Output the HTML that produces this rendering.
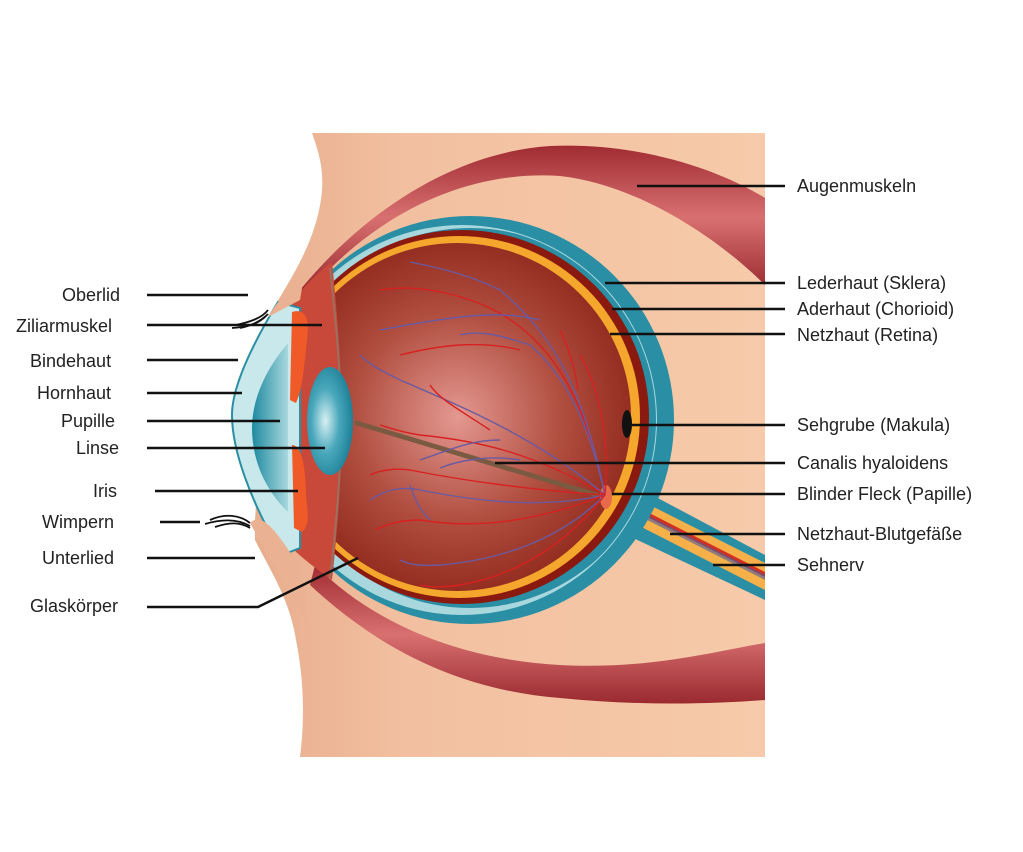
<!DOCTYPE html>
<html><head><style>
body{margin:0;background:#fff;}
svg{display:block}
text{font-family:"Liberation Sans",sans-serif;font-size:18px;fill:#222;}
</style></head><body>
<svg width="1023" height="852" viewBox="0 0 1023 852" xmlns="http://www.w3.org/2000/svg">
<defs>
<radialGradient id="vit" cx="0.5" cy="0.5" r="0.6">
<stop offset="0" stop-color="#e49890"/><stop offset="0.5" stop-color="#b04e40"/><stop offset="1" stop-color="#861e12"/></radialGradient>
<linearGradient id="mus" x1="0" y1="0" x2="0" y2="1">
<stop offset="0" stop-color="#a02c32"/><stop offset="0.5" stop-color="#d87070"/><stop offset="1" stop-color="#9a2a30"/></linearGradient>
<radialGradient id="lens" cx="0.4" cy="0.5" r="0.6"><stop offset="0" stop-color="#d8f0f2"/><stop offset="0.5" stop-color="#4aa8bc"/><stop offset="1" stop-color="#1c7f96"/></radialGradient>
<linearGradient id="cham" x1="0" x2="1"><stop offset="0" stop-color="#1f8aa0"/><stop offset="1" stop-color="#a8d8de"/></linearGradient>
<linearGradient id="skin" x1="0" x2="1"><stop offset="0" stop-color="#e8ae8e"/><stop offset="0.3" stop-color="#f2c0a0"/><stop offset="1" stop-color="#f6caaa"/></linearGradient>
<clipPath id="eyeclip"><circle cx="470" cy="420" r="204"/></clipPath>
<clipPath id="inner"><circle cx="462" cy="420" r="194"/></clipPath>
</defs>
<path d="M312,133 L765,133 L765,757 L300,757 C306,710 302,670 296,640 C290,600 270,570 255,540 L255,520 L268,317 C290,280 318,240 322,190 C324,165 316,145 312,133 Z" fill="url(#skin)"/>
<path d="M300,290 C370,205 460,152 550,146 C640,142 720,170 765,198 L765,285 C720,240 640,185 560,176 C470,170 380,210 310,290 Z" fill="url(#mus)"/>
<path d="M315,565 C380,630 470,660 560,665 C650,670 720,650 765,643 L765,700 C700,705 630,705 560,698 C460,690 380,650 310,585 Z" fill="url(#mus)"/>
<path d="M605,470 L765,555 L765,600 L612,528 Z" fill="#2a8ea4"/>
<path d="M610,485 L765,563 L765,590 L612,512 Z" fill="#f5b04a"/>
<path d="M610,493 L765,572 L765,577 L612,499 Z" fill="#d33020"/>
<path d="M610,496 L765,575 L765,580 L612,502 Z" fill="#4a5aa0" opacity="0.6"/>
<circle cx="470" cy="420" r="204" fill="#2a8ea4"/>
<circle cx="462" cy="420" r="195" fill="#a8d8de" clip-path="url(#eyeclip)"/>
<circle cx="470" cy="418" r="190" fill="#2a8ea4" clip-path="url(#inner)"/>
<circle cx="462" cy="417" r="187" fill="#8a1a10"/>
<circle cx="459" cy="417" r="181" fill="#f5a62c"/>
<circle cx="457" cy="417" r="174" fill="url(#vit)"/>
<path d="M292,302 C305,285 318,272 332,262 C338,320 342,380 342,420 C342,470 338,525 332,580 C318,570 304,560 292,548 Z" fill="#c8483a"/>
<path d="M330,268 C337,330 341,380 341,420 C341,470 337,520 330,578" fill="none" stroke="#9a7060" stroke-width="2"/>
<path d="M278,302 C255,340 232,385 232,415 C232,450 250,500 282,555 L300,548 L300,308 Z" fill="#c9e8ec" stroke="#2a8ea4" stroke-width="2"/>
<path d="M288,343 C265,370 252,400 252,428 C252,460 265,490 288,512 Z" fill="url(#cham)"/>
<path d="M292,312 C305,308 310,318 307,340 C304,370 302,390 296,403 L290,400 Z" fill="#f05a28"/>
<path d="M292,445 C302,445 306,470 306,495 C308,515 310,525 302,532 L294,528 Z" fill="#f05a28"/>
<ellipse cx="330" cy="421" rx="23" ry="54" fill="url(#lens)"/>
<path d="M268,317 C278,300 292,285 305,270 L300,300 Z" fill="#eab292"/>
<path d="M250,523 C258,515 268,520 285,545 C300,565 310,590 305,620 L290,595 C278,570 262,545 250,523 Z" fill="#eab292"/>
<path d="M355,420 L605,495 L605,500 L355,425 Z" fill="#7a5a40"/>
<ellipse cx="606" cy="497" rx="6" ry="12" fill="#e86a4a"/>
<ellipse cx="627" cy="424" rx="5" ry="14" fill="#111"/>
<g fill="none" stroke-width="1.4">
<path d="M605,495 C590,420 560,330 470,300 C440,290 410,285 380,290" stroke="#d82020"/>
<path d="M520,350 C480,340 440,345 400,355" stroke="#d82020"/>
<path d="M605,495 C585,400 560,340 500,290 C470,275 440,268 410,262" stroke="#6a5aa0"/>
<path d="M540,320 C500,310 460,315 380,330" stroke="#6a5aa0"/>
<path d="M605,495 C590,430 570,380 530,345 C500,335 480,330 460,335" stroke="#6a5aa0"/>
<path d="M605,495 C610,440 600,390 580,355" stroke="#d82020"/>
<path d="M605,495 C540,440 470,410 400,380 C380,370 370,365 360,355" stroke="#6a5aa0"/>
<path d="M605,495 C530,450 470,440 420,435 C400,432 390,428 380,425" stroke="#d82020"/>
<path d="M490,430 C460,410 440,400 430,385" stroke="#d82020"/>
<path d="M500,440 C470,440 450,450 420,460" stroke="#6a5aa0"/>
<path d="M605,495 C530,490 460,480 410,470 C395,468 380,470 370,475" stroke="#d82020"/>
<path d="M605,495 C540,510 470,500 420,490 C400,486 385,490 370,500" stroke="#6a5aa0"/>
<path d="M605,495 C540,520 480,530 420,520 C400,520 385,525 375,530" stroke="#d82020"/>
<path d="M430,520 C420,510 415,500 410,485" stroke="#6a5aa0"/>
<path d="M605,495 C560,540 500,560 440,565 C420,566 410,565 400,560" stroke="#6a5aa0"/>
<path d="M605,495 C570,540 520,575 460,585 C440,588 430,587 420,585" stroke="#d82020"/>
<path d="M520,460 C490,455 460,460 440,468" stroke="#6a5aa0"/>
<path d="M560,330 C570,350 575,370 578,390" stroke="#d82020"/>
</g>
<g stroke="#111" stroke-width="2.5" fill="none">
<line x1="147" y1="295" x2="248" y2="295"/>
<line x1="147" y1="325" x2="322" y2="325"/>
<line x1="147" y1="360" x2="238" y2="360"/>
<line x1="147" y1="393" x2="242" y2="393"/>
<line x1="147" y1="421" x2="280" y2="421"/>
<line x1="147" y1="448" x2="325" y2="448"/>
<line x1="155" y1="491" x2="298" y2="491"/>
<line x1="160" y1="522" x2="200" y2="522"/>
<line x1="147" y1="558" x2="255" y2="558"/>
<polyline points="147,607 258,607 358,558"/>
<line x1="637" y1="186" x2="785" y2="186"/>
<line x1="605" y1="283" x2="785" y2="283"/>
<line x1="612" y1="309" x2="785" y2="309"/>
<line x1="610" y1="334" x2="785" y2="334"/>
<line x1="632" y1="425" x2="785" y2="425"/>
<line x1="495" y1="463" x2="785" y2="463"/>
<line x1="612" y1="494" x2="785" y2="494"/>
<line x1="670" y1="534" x2="785" y2="534"/>
<line x1="713" y1="565" x2="785" y2="565"/>
</g>
<path d="M268,310 C262,318 250,322 236,325 M268,314 C260,322 250,326 240,328 M266,316 C258,324 248,327 232,328" stroke="#111" stroke-width="1.8" fill="none"/>
<path d="M250,523 C240,515 225,513 210,520 M250,526 C238,519 222,519 205,524 M250,528 C240,522 230,522 215,527" stroke="#111" stroke-width="1.8" fill="none"/>
<text x="62" y="301">Oberlid</text>
<text x="16" y="332">Ziliarmuskel</text>
<text x="30" y="367">Bindehaut</text>
<text x="37" y="399">Hornhaut</text>
<text x="61" y="427">Pupille</text>
<text x="76" y="454">Linse</text>
<text x="93" y="497">Iris</text>
<text x="42" y="528">Wimpern</text>
<text x="42" y="564">Unterlied</text>
<text x="30" y="612">Glaskörper</text>
<text x="797" y="192">Augenmuskeln</text>
<text x="797" y="289">Lederhaut (Sklera)</text>
<text x="797" y="315">Aderhaut (Chorioid)</text>
<text x="797" y="341">Netzhaut (Retina)</text>
<text x="797" y="431">Sehgrube (Makula)</text>
<text x="797" y="469">Canalis hyaloidens</text>
<text x="797" y="500">Blinder Fleck (Papille)</text>
<text x="797" y="540">Netzhaut-Blutgefäße</text>
<text x="797" y="571">Sehnerv</text>
</svg>
</body></html>
